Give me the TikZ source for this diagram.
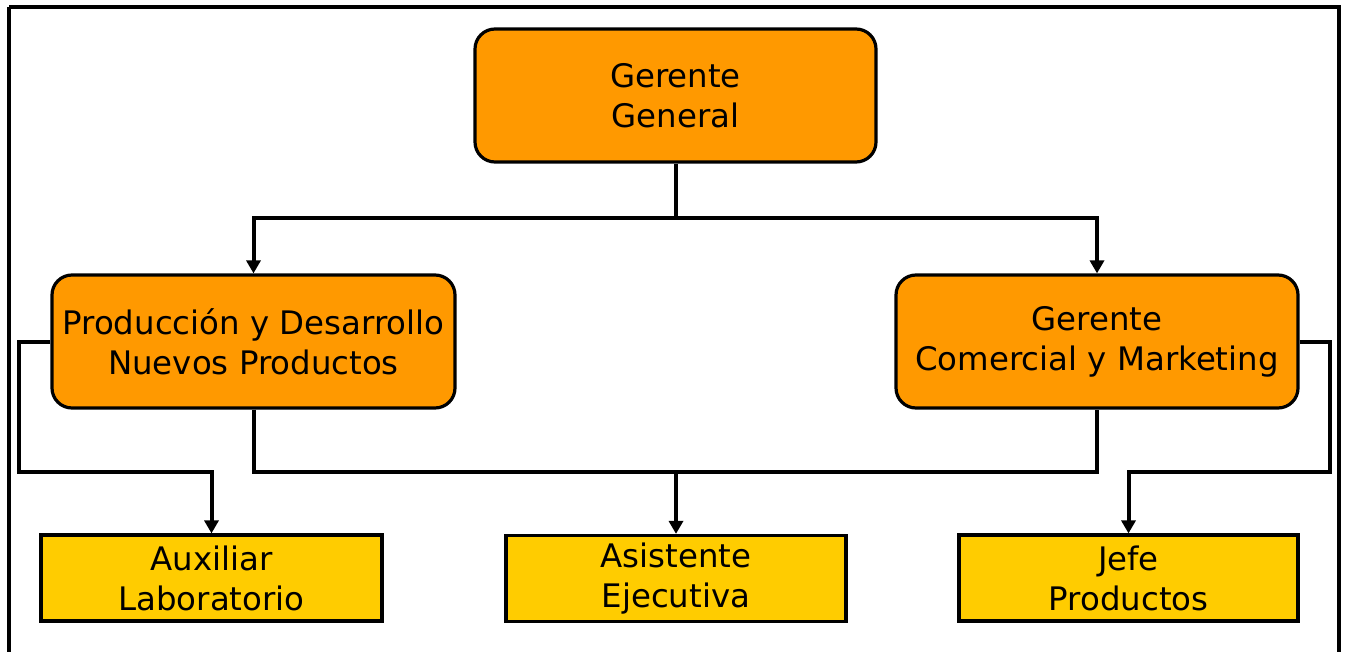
\documentclass[tikz,border=0pt]{standalone}
\usepackage{fontspec}
\setmainfont{DejaVu Sans}
\usetikzlibrary{arrows.meta}
\definecolor{boxorange}{HTML}{FF9900}
\definecolor{boxyellow}{HTML}{FFCC00}
\begin{document}
\begin{tikzpicture}[x=0.5pt,y=-0.5pt,
  every node/.style={font=\fontsize{16.2pt}{20pt}\selectfont, align=center, inner sep=0pt},
  mgr/.style={draw=black, line width=1.6pt, fill=boxorange, rounded corners=10pt},
  staff/.style={draw=black, line width=1.6pt, fill=boxyellow},
  link/.style={draw=black, line width=2pt},
  arr/.style={link, -{Triangle[length=6.5pt,width=7pt]}}]
\useasboundingbox (0,0) rectangle (1347,652);
\fill[white] (0,0) rectangle (1347,652);
\draw[line width=1.6pt] (9,7) -- (1339,7) -- (1339,665) (9,7) -- (9,665);
% nodes
\node[mgr, minimum width=200.5pt, minimum height=66.5pt] (gg) at (675.5,95.5) {Gerente\\General};
\node[mgr, minimum width=201.5pt, minimum height=66.5pt] (pd) at (253.5,341.5) {Producción y Desarrollo\\Nuevos Productos};
\node[mgr, minimum width=201pt, minimum height=66.5pt] (gc) at (1097,341.5) {Gerente\\Comercial y Marketing};
\node[staff, minimum width=170.5pt, minimum height=43pt] (aux) at (211.5,578) {Auxiliar\\Laboratorio};
\node[staff, minimum width=170pt, minimum height=43pt] (asi) at (676,578.5) {Asistente\\Ejecutiva};
\node[staff, minimum width=169.5pt, minimum height=43pt] (jefe) at (1128.5,578) {Jefe\\Productos};
% junction coordinates
\coordinate (top) at (676,218);
\coordinate (lb) at (19,472);
\coordinate (mb) at (676,472);
\coordinate (rb) at (1330,472);
% connectors
\draw[arr] (gg.south) -- (gg.south |- top) -| (pd.north);
\draw[arr] (gg.south |- top) -| (gc.north);
\draw[arr] (pd.west) -| (lb) -| (aux.north);
\draw[link] (pd.south) |- (mb) -| (gc.south);
\draw[arr] (mb) -- (asi.north);
\draw[arr] (gc.east) -| (rb) -| (jefe.north);
\end{tikzpicture}
\end{document}
